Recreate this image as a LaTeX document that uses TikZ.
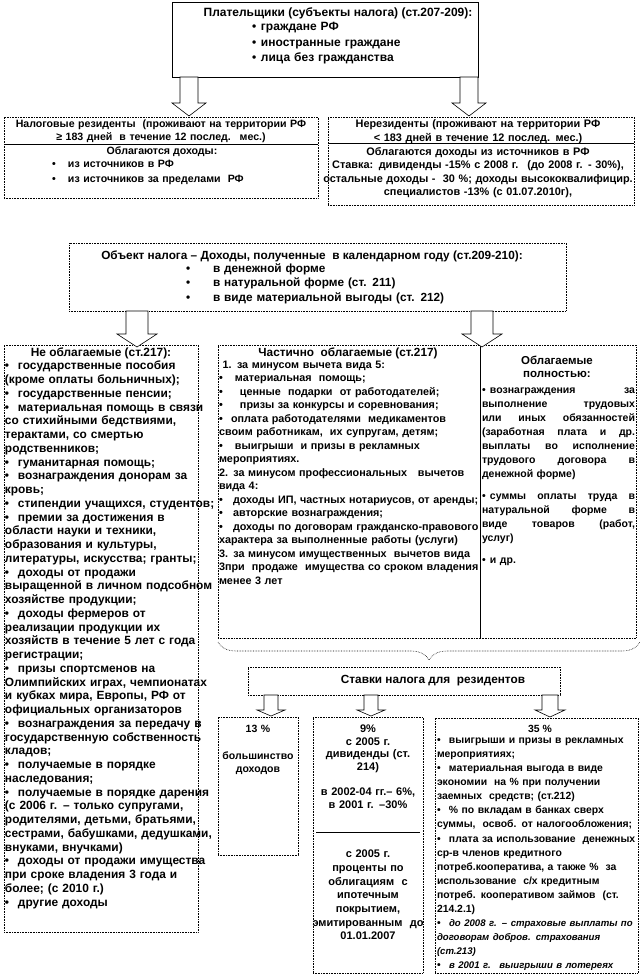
\documentclass[tikz,border=0pt]{standalone}
\usepackage{fontspec}
\setmainfont{Liberation Sans}
\usetikzlibrary{fit,decorations.pathreplacing}
\newcommand\fs[2]{\fontsize{#1}{#2}\selectfont}
\newcommand\bul[1]{\makebox[#1][l]{•}}
\newcommand\itl[1]{{\fontsize{9.6}{14.06}\selectfont\itshape #1}}
% block arrow: cx, ytop, ybase, ytip, shaft half width, head half width
\newcommand\barrow[6]{\draw[barr] (#1-#5,#2) -- (#1-#5,#3) -- (#1-#6,#3) -- (#1,#4) -- (#1+#6,#3) -- (#1+#5,#3) -- (#1+#5,#2) -- cycle;}
\begin{document}
\begin{tikzpicture}[x=1pt,y=-1pt,
  every node/.style={inner sep=0pt, outer sep=0pt, font=\bfseries},
  box/.style={draw, densely dotted, line width=0.6pt},
  sbox/.style={draw, line width=0.6pt},
  barr/.style={draw, fill=white, line width=0.6pt},
  txt/.style={align=left, anchor=north west},
  ctxt/.style={align=center, anchor=north}]
\useasboundingbox (0,0) rectangle (643,976);
\fill[white] (0,0) rectangle (643,976);

% ---------- boxes ----------
\node[sbox, fit={(172,2) (478,77)}] (payers) {};
\node[box, fit={(4,117) (318,198)}] (res) {};
\node[box, fit={(328,117) (634,205)}] (nonres) {};
\draw[line width=0.6pt] (4,144) -- (318,144);
\draw[line width=0.6pt] (328,143) -- (634,143);
\node[box, fit={(69,243) (566,311)}] (object) {};
\node[box, fit={(4,345) (198,932)}] (free) {};
\node[box, fit={(218,345) (480,638)}] (part) {};
\node[box, fit={(480,345) (636,638)}] (full) {};
\node[box, fit={(248,667) (560,695)}] (rates) {};
\node[box, fit={(218,717) (298,855)}] (r13) {};
\node[box, fit={(313,717) (423,973)}] (r9) {};
\draw[line width=0.6pt] (316,832) -- (420,832);
\node[box, fit={(435,718) (638,973)}] (r35) {};

% ---------- texts ----------
\node[ctxt, font=\bfseries\fs{12}{15.3}] (payT) at (338,7.5) {Плательщики (субъекты налога) (ст.207-209):};
\node[txt, text width=200pt, font=\bfseries\fs{12}{15.3}] (payL) at (252,22.5)
 {\bul{9pt}граждане РФ\\\bul{9pt}иностранные граждане\\\bul{9pt}лица без гражданства};

\node[ctxt, text width=314pt, font=\bfseries\fs{10.6}{12.5}] (resT) at (161,120)
 {Налоговые резиденты \ (проживают на территории РФ\\≥ 183 дней \ в течение 12 послед. \ мес.)};
\node[ctxt, font=\bfseries\fs{10.6}{15}] (resS) at (162,147) {Облагаются доходы:};
\node[txt, text width=250pt, font=\bfseries\fs{10.6}{15}] (resL) at (52,160)
 {\bul{16pt}из источников в РФ\\\bul{16pt}из источников за пределами \ РФ};

\node[ctxt, text width=310pt, font=\bfseries\fs{10.9}{13.6}] (nonT) at (478,120)
 {Нерезиденты (проживают на территории РФ\\
 < 183 дней в течение 12 послед. мес.)\\
 Облагаются доходы из источников в РФ\\
 Ставка: дивиденды -15\% с 2008 г. \ (до 2008 г. - 30\%),\\
 остальные доходы - \ 30 \%; доходы высококвалифицир.\\
 специалистов -13\% (с 01.07.2010г),};

\node[ctxt, font=\bfseries\fs{11.8}{14.5}] (objT) at (312,250.5)
 {Объект налога – Доходы, полученные \ в календарном году (ст.209-210):};
\node[txt, text width=300pt, font=\bfseries\fs{11.8}{14.5}] (objL) at (186,263.5)
 {\bul{27pt}в денежной форме\\\bul{27pt}в натуральной форме (ст. 211)\\\bul{27pt}в виде материальной выгоды (ст. 212)};

\node[ctxt, font=\bfseries\fs{11.9}{13.75}] (freeT) at (101,347.5) {Не облагаемые (ст.217):};
\node[txt, text width=230pt, font=\bfseries\fs{11.9}{13.75}] (freeL) at (5,361.25)
 {\bul{13pt}государственные пособия\\
 (кроме оплаты больничных);\\
 \bul{13pt}государственные пенсии;\\
 \bul{13pt}материальная помощь в связи\\
 со стихийными бедствиями,\\
 терактами, со смертью\\
 родственников;\\
 \bul{13pt}гуманитарная помощь;\\
 \bul{13pt}вознаграждения донорам за\\
 кровь;\\
 \bul{13pt}стипендии учащихся, студентов;\\
 \bul{13pt}премии за достижения в\\
 области науки и техники,\\
 образования и культуры,\\
 литературы, искусства; гранты;\\
 \bul{13pt}доходы от продажи\\
 выращенной в личном подсобном\\
 хозяйстве продукции;\\
 \bul{13pt}доходы фермеров от\\
 реализации продукции их\\
 хозяйств в течение 5 лет с года\\
 регистрации;\\
 \bul{13pt}призы спортсменов на\\
 Олимпийских играх, чемпионатах\\
 и кубках мира, Европы, РФ от\\
 официальных организаторов\\
 \bul{13pt}вознаграждения за передачу в\\
 государственную собственность\\
 кладов;\\
 \bul{13pt}получаемые в порядке\\
 наследования;\\
 \bul{13pt}получаемые в порядке дарения\\
 (с 2006 г. – только супругами,\\
 родителями, детьми, братьями,\\
 сестрами, бабушками, дедушками,\\
 внуками, внучками)\\
 \bul{13pt}доходы от продажи имущества\\
 при сроке владения 3 года и\\
 более; (с 2010 г.)\\
 \bul{13pt}другие доходы};

\node[ctxt, font=\bfseries\fs{11.8}{13.5}] (partT) at (348,347.5) {Частично \ облагаемые (ст.217)};
\node[txt, text width=275pt, font=\bfseries\fs{10.8}{13.5}] (partL) at (219,361)
 {\ 1. за минусом вычета вида 5:\\
 \bul{16pt}материальная \ помощь;\\
 \bul{21pt}ценные \ подарки \ от работодателей;\\
 \bul{21pt}призы за конкурсы и соревнования;\\
 \bul{12pt}оплата работодателями \ медикаментов\\
 своим работникам, \ их супругам, детям;\\
 \bul{16pt}выигрыши \ и призы в рекламных\\
 мероприятиях.\\
 2. за минусом профессиональных \ \ вычетов\\
 вида 4:\\
 \bul{14pt}доходы ИП, частных нотариусов, от аренды;\\
 \bul{14pt}авторские вознаграждения;\\
 \bul{14pt}доходы по договорам гражданско-правового\\
 характера за выполненные работы (услуги)\\
 3. за минусом имущественных \ вычетов вида\\
 3при \ продаже \ имущества со сроком владения\\
 менее 3 лет};

\node[ctxt, text width=150pt, font=\bfseries\fs{11.5}{13}] (fullT) at (557,356) {Облагаемые\\полностью:};
\node[txt, text width=153pt, font=\bfseries\fs{10.5}{14}] (fullL) at (482,387.5)
 {\bul{8pt}вознаграждения \hfill за\\
 выполнение \hfill трудовых\\
 или \hfill иных \hfill обязанностей\\
 (заработная \hfill плата \hfill и \hfill др.\\
 выплаты \hfill во \hfill исполнение\\
 трудового \hfill договора \hfill в\\
 денежной форме)\\[8pt]
 \bul{8pt}суммы \hfill оплаты \hfill труда \hfill в\\
 натуральной \hfill форме \hfill в\\
 виде \hfill товаров \hfill (работ,\\
 услуг)\\[8pt]
 \bul{8pt}и др.};

\node[ctxt, font=\bfseries\fs{11.8}{13}] (ratesT) at (433,675.5) {Ставки налога для \ резидентов};

\node[ctxt, text width=80pt, font=\bfseries\fs{10.5}{13.5}] (t13) at (258,725) {13 \%\\[13.5pt]большинство\\доходов};
\node[ctxt, text width=130pt, font=\bfseries\fs{11}{12.6}] (t9a) at (368,725)
 {9\%\\с 2005 г.\\дивиденды (ст.\\214)\\[12.6pt]в 2002-04 гг.– 6\%,\\в 2001 г. –30\%};
\node[ctxt, text width=130pt, font=\bfseries\fs{11}{13.7}] (t9b) at (368,850)
 {с 2005 г.\\проценты по\\облигациям \ с\\ипотечным\\покрытием,\\эмитированным \ до\\01.01.2007};
\node[ctxt, font=\bfseries\fs{10.4}{14}] (t35) at (540,725) {35 \%};
\node[txt, text width=230pt, font=\bfseries\fs{10.4}{14.06}] (l35) at (437,738)
 {\bul{12pt}выигрыши и призы в рекламных\\
 мероприятиях;\\
 \bul{12pt}материальная выгода в виде\\
 экономии \ на \% при получении\\
 заемных \ средств; (ст.212)\\
 \bul{12pt}\% по вкладам в банках сверх\\
 суммы, \ освоб. от налогообложения;\\
 \bul{12pt}плата за использование \ денежных\\
 ср-в членов кредитного\\
 потреб.кооператива, а также \% \ за\\
 использование \ с/х кредитным\\
 потреб. кооперативом займов \ (ст.\\
 214.2.1)\\
 \bul{12pt}\itl{до 2008 г. – страховые выплаты по}\\
 \itl{договорам добров. страхования}\\
 \itl{(ст.213)}\\
 \bul{12pt}\itl{в 2001 г. \ выигрыши в лотереях}};

% ---------- brace ----------
\draw[densely dotted, line width=0.6pt, decorate, decoration={brace, mirror, amplitude=18pt}] (218,642) -- (640,642);

% ---------- block arrows ----------
\barrow{189}{77}{103}{116}{9}{17}
\barrow{469}{77}{103}{116}{9}{17}
\barrow{137}{311}{334}{347}{11}{20}
\barrow{482}{311}{334}{347}{11}{20}
\barrow{271}{695}{710}{716}{7}{14}
\barrow{371}{695}{710}{716}{7}{14}
\barrow{550}{695}{710}{717}{8}{15}
\end{tikzpicture}
\end{document}
